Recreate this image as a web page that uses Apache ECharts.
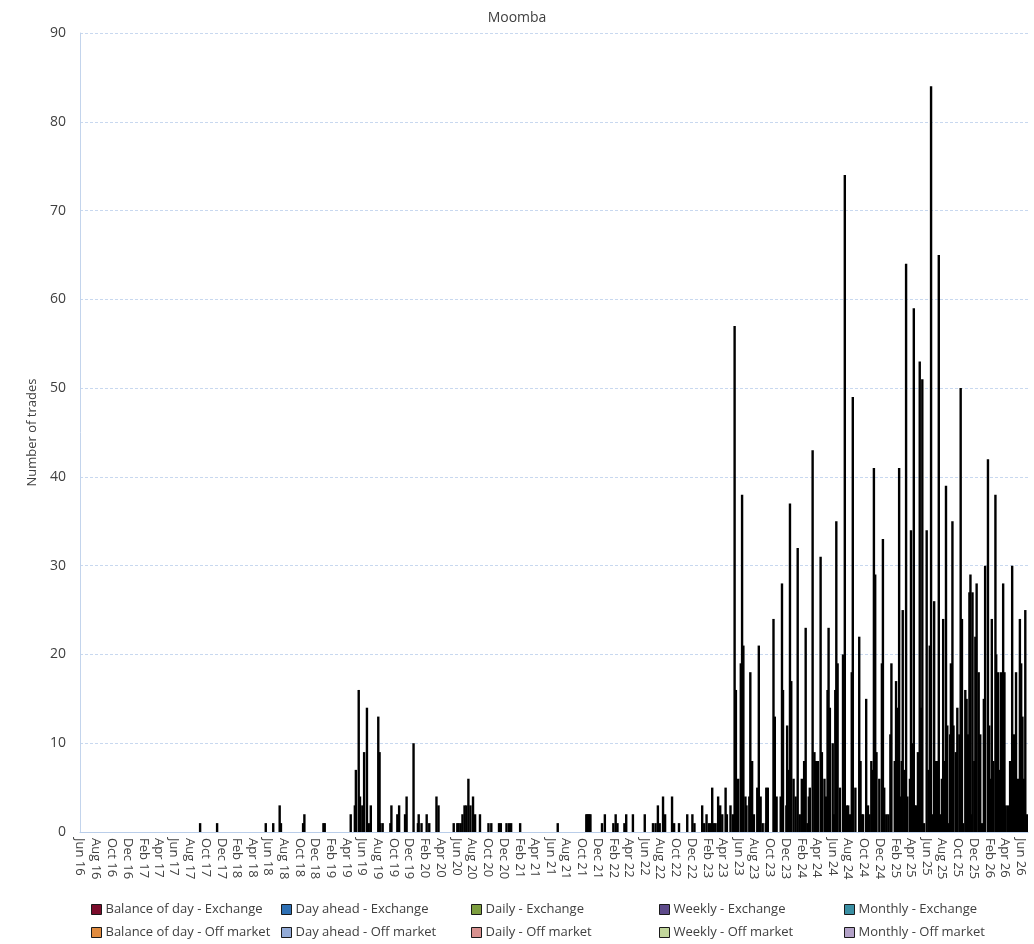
<!DOCTYPE html>
<html>
<head>
<meta charset="utf-8">
<script src="https://cdn.jsdelivr.net/npm/echarts@6/dist/echarts.min.js"></script>
<style>
html,body{margin:0;padding:0;background:#fff;}
#chart{width:1034px;height:944px;}
</style>
</head>
<body>
<div id="chart"></div>
<script>
// Axis range (daily categories)
const startDate = '2016-06-01';
const endDate = '2026-06-30';
const monthNames = ['Jan','Feb','Mar','Apr','May','Jun','Jul','Aug','Sep','Oct','Nov','Dec'];

// Series names and colours (legend order)
const seriesNames = [
  'Balance of day - Exchange','Day ahead - Exchange','Daily - Exchange','Weekly - Exchange','Monthly - Exchange',
  'Balance of day - Off market','Day ahead - Off market','Daily - Off market','Weekly - Off market','Monthly - Off market'
];
const seriesColors = [
  '#7b0c2b','#2e70b4','#7d9e3f','#5d4a8a','#3a8fa3',
  '#e08b3f','#93abd7','#d8918f','#c2d69b','#b2a1c7'
];

// Trade dates and number of trades
const tradeDates = [
'2017-09-10','2017-11-15','2018-05-23','2018-06-21','2018-07-16','2018-07-21','2018-10-15','2018-10-20','2019-01-02','2019-01-07',
'2019-04-18','2019-05-04','2019-05-08','2019-05-19','2019-05-24','2019-06-02','2019-06-09','2019-06-20','2019-06-27','2019-07-05',
'2019-08-03','2019-08-08','2019-08-11','2019-08-20','2019-09-19','2019-09-23','2019-10-16','2019-10-23','2019-11-15','2019-11-21',
'2019-12-18','2020-01-04','2020-01-07','2020-01-18','2020-02-07','2020-02-17','2020-03-16','2020-03-24','2020-05-22','2020-06-05',
'2020-06-10','2020-06-18','2020-06-25','2020-07-03','2020-07-10','2020-07-18','2020-07-26','2020-08-05','2020-08-13','2020-09-01',
'2020-10-04','2020-10-15','2020-11-14','2020-11-21','2020-12-13','2020-12-23','2020-12-31','2021-02-04','2021-06-30','2021-10-19',
'2021-10-23','2021-10-27','2021-10-31','2021-11-04','2021-12-19','2021-12-30','2022-02-01','2022-02-10','2022-02-17','2022-03-16',
'2022-03-23','2022-04-18','2022-06-03','2022-07-05','2022-07-15','2022-07-24','2022-07-31','2022-08-13','2022-08-21','2022-09-17',
'2022-09-25','2022-10-14','2022-11-15','2022-12-05','2022-12-13','2023-01-12','2023-01-20','2023-01-29','2023-02-07','2023-02-15',
'2023-02-20','2023-02-26','2023-03-05','2023-03-15','2023-03-23','2023-03-31','2023-04-13','2023-04-18','2023-05-02','2023-05-11',
'2023-05-18','2023-05-23','2023-06-01','2023-06-11','2023-06-16','2023-06-21','2023-06-29','2023-07-03','2023-07-14','2023-07-18',
'2023-07-25','2023-08-01','2023-08-14','2023-08-20','2023-08-27','2023-09-04','2023-09-16','2023-09-18','2023-09-24','2023-10-16',
'2023-10-21','2023-10-28','2023-11-13','2023-11-18','2023-11-22','2023-12-05','2023-12-08','2023-12-12','2023-12-19','2023-12-24',
'2024-01-02','2024-01-10','2024-01-18','2024-01-26','2024-02-03','2024-02-12','2024-02-18','2024-02-25','2024-03-01','2024-03-05',
'2024-03-16','2024-03-23','2024-03-29','2024-04-05','2024-04-16','2024-04-21','2024-05-01','2024-05-07','2024-05-13','2024-05-17',
'2024-05-22','2024-06-02','2024-06-07','2024-06-12','2024-06-16','2024-06-21','2024-06-30','2024-07-12','2024-07-19','2024-07-26',
'2024-08-01','2024-08-09','2024-08-15','2024-08-19','2024-08-29','2024-09-13','2024-09-18','2024-09-22','2024-09-28','2024-10-10',
'2024-10-17','2024-10-23','2024-10-30','2024-11-04','2024-11-09','2024-11-14','2024-11-19','2024-11-30','2024-12-10','2024-12-14',
'2024-12-19','2024-12-27','2025-01-04','2025-01-12','2025-01-16','2025-01-29','2025-02-03','2025-02-08','2025-02-15','2025-02-20',
'2025-02-25','2025-03-01','2025-03-07','2025-03-14','2025-03-19','2025-03-29','2025-04-02','2025-04-07','2025-04-13','2025-04-18',
'2025-04-23','2025-04-29','2025-05-06','2025-05-12','2025-05-16','2025-05-23','2025-06-02','2025-06-09','2025-06-14','2025-06-19',
'2025-06-24','2025-07-01','2025-07-08','2025-07-14','2025-07-19','2025-07-25','2025-07-31','2025-08-05','2025-08-10','2025-08-16',
'2025-08-21','2025-08-26','2025-09-01','2025-09-04','2025-09-10','2025-09-14','2025-09-23','2025-09-29','2025-10-07','2025-10-12',
'2025-10-17','2025-10-22','2025-10-30','2025-11-04','2025-11-10','2025-11-15','2025-11-19','2025-11-23','2025-11-27','2025-12-04',
'2025-12-08','2025-12-13','2025-12-21','2025-12-27','2026-01-03','2026-01-10','2026-01-15','2026-01-26','2026-01-31','2026-02-06',
'2026-02-10','2026-02-16','2026-02-24','2026-02-27','2026-03-06','2026-03-11','2026-03-17','2026-03-21','2026-03-26','2026-03-31',
'2026-04-05','2026-04-14','2026-04-22','2026-04-30','2026-05-03','2026-05-11','2026-05-15','2026-05-23','2026-05-30','2026-06-04',
'2026-06-09','2026-06-14','2026-06-20','2026-06-26'
];
const tradeCounts = [
1,1,1,1,3,1,1,2,1,1,
2,3,7,16,4,3,9,14,1,3,
13,9,1,1,1,3,2,3,2,4,
10,1,2,1,2,1,4,3,1,1,
1,1,2,3,3,6,3,4,2,2,
1,1,1,1,1,1,1,1,1,2,
2,2,2,2,1,2,1,2,1,1,
2,2,2,1,1,3,1,4,2,4,
1,1,2,2,1,3,1,2,1,1,
5,1,1,4,3,2,5,2,3,2,
57,16,6,19,38,21,4,3,4,18,
8,2,5,21,4,1,1,5,5,24,
13,4,4,28,16,3,12,7,37,17,
6,4,32,2,6,8,23,1,4,5,
43,9,8,8,31,9,6,4,16,23,
14,10,2,16,35,19,5,20,74,3,
3,2,18,49,5,22,8,2,2,15,
3,2,8,7,41,29,9,6,19,33,
5,2,2,11,19,8,17,14,41,4,
8,25,7,64,4,6,34,10,59,3,
3,9,53,14,51,1,34,7,21,84,
2,26,8,8,65,2,6,24,8,39,
12,1,11,19,35,12,9,14,11,50,
24,1,16,15,11,27,29,2,27,8,
22,28,18,11,1,15,30,42,12,6,
24,8,38,20,18,7,18,1,28,18,
3,3,8,30,11,11,18,6,24,19,
13,6,25,2
];

// Build daily categories
function pad(n){return (n<10?'0':'')+n;}
const categories = [];
(function(){
  const s = new Date(startDate+'T00:00:00Z');
  const e = new Date(endDate+'T00:00:00Z');
  for(let d=new Date(s); d<=e; d.setUTCDate(d.getUTCDate()+1)){
    categories.push(d.getUTCFullYear()+'-'+pad(d.getUTCMonth()+1)+'-'+pad(d.getUTCDate()));
  }
})();
const countMap = {};
tradeDates.forEach((d,i)=>{countMap[d]=(countMap[d]||0)+tradeCounts[i];});
const totalData = categories.map(c => countMap[c] != null ? countMap[c] : '-');

const FONT = 'Open Sans';
const txt = '#404040';

const series = seriesNames.map((n,i)=>({
  name:n,
  type:'bar',
  stack:'all',
  barWidth:2.4,
  data: i===0 ? totalData : [],
  itemStyle:{color:'#000'},
  emphasis:{disabled:true},
  animation:false
}));

const legendLeft = [91,281,471,659,844];
const legends = seriesNames.map((n,i)=>({
  data:[{name:n, itemStyle:{color:seriesColors[i], borderColor:'#1a1a1a', borderWidth:1}}],
  left: legendLeft[i%5],
  top: i<5 ? 903 : 926,
  padding:0,
  itemWidth:10,
  itemHeight:10,
  itemGap:0,
  icon:'rect',
  selectedMode:false,
  textStyle:{fontFamily:FONT,fontSize:13,color:txt,padding:[0,0,0,-1]}
}));

const chart = echarts.init(document.getElementById('chart'), null, {renderer:'canvas'});
chart.setOption({
  animation:false,
  backgroundColor:'#fff',
  title:{text:'Moomba',left:'center',top:6,textStyle:{fontFamily:FONT,fontSize:14,fontWeight:'normal',color:txt}},
  legend: legends,
  grid:{left:80,right:6,top:33,bottom:112,containLabel:false},
  xAxis:{
    type:'category',
    data:categories,
    boundaryGap:true,
    axisTick:{show:false},
    axisLine:{show:true,lineStyle:{color:'#b9cde9',width:1}},
    axisLabel:{
      rotate:-90,
      margin:6,
      fontFamily:FONT,fontSize:13,color:txt,
      interval:function(idx,val){
        const m = parseInt(val.slice(5,7),10);
        return val.slice(8,10)==='01' && m%2===0;
      },
      formatter:function(val){
        const m = parseInt(val.slice(5,7),10);
        return monthNames[m-1]+' '+val.slice(2,4);
      }
    },
    splitLine:{show:false}
  },
  yAxis:{
    type:'value',
    min:0,max:90,interval:10,
    name:'Number of trades',
    nameLocation:'middle',
    nameGap:34,
    nameTextStyle:{fontFamily:FONT,fontSize:13,color:txt},
    axisLine:{show:true,lineStyle:{color:'#c3d4ec'}},
    axisTick:{show:false},
    axisLabel:{fontFamily:FONT,fontSize:14,color:txt,margin:14},
    splitLine:{show:true,lineStyle:{color:'#c8d8ef',type:[3,2],width:1}}
  },
  series:series
});
</script>
</body>
</html>
